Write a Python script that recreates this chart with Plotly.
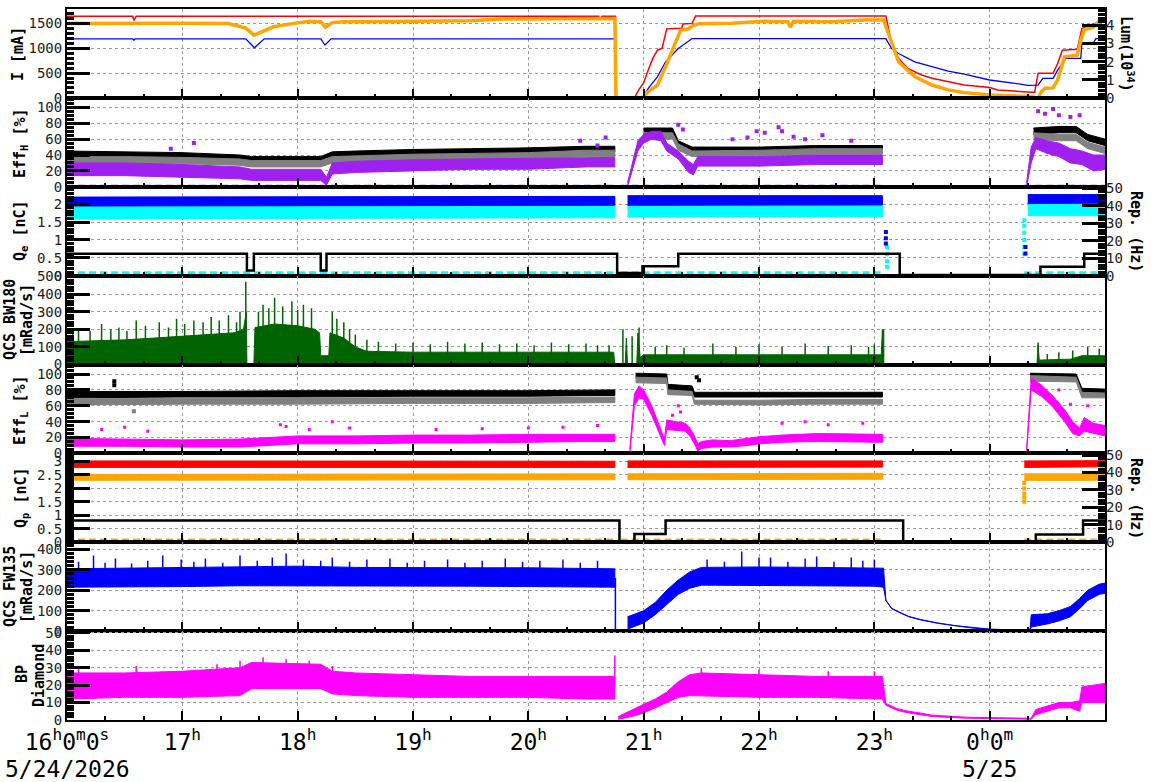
import plotly.graph_objects as go

N = None

# ---------------- axis labels ----------------
hours = [16, 17, 18, 19, 20, 21, 22, 23, 24]
hour_labels = ["16<sup>h</sup>0<sup>m</sup>0<sup>s</sup>", "17<sup>h</sup>", "18<sup>h</sup>", "19<sup>h</sup>",
               "20<sup>h</sup>", "21<sup>h</sup>", "22<sup>h</sup>", "23<sup>h</sup>", "0<sup>h</sup>0<sup>m</sup>"]
date_hours = [16, 24]
date_labels = ["5/24/2026", "5/25"]

# ---------------- panel 1 : beam currents [mA] and luminosity ----------------
i_red_t = [16.0, 16.57, 16.58, 16.6, 20.61, 20.62, 20.64, 20.755, 20.76, 20.92, 20.96, 21.0, 21.03, 21.08,
           21.12, 21.16, 21.2, 21.33, 21.34, 21.42, 21.45, 23.1, 23.15, 23.21, 23.29, 23.41, 23.5, 23.64,
           23.78, 24.0, 24.07, 24.36, 24.39, 24.42, 24.55, 24.59, 24.63, 24.76, 24.79, 24.8, 24.9, 24.97, 25.0]
i_red = [1645, 1645, 1560, 1645, 1645, 1575, 1645, 1645, 0, 0, 170, 300, 500, 800,
         960, 1000, 1390, 1400, 1490, 1500, 1650, 1650, 1094, 794, 594, 460, 394, 327,
         260, 207, 160, 113, 113, 494, 494, 694, 960, 980, 1294, 1394, 1494, 1527, 1530]
i_blue_t = [16.0, 16.57, 16.58, 16.59, 17.55, 17.625, 17.71, 18.2, 18.237, 18.29, 20.755, 20.76, 20.99,
            21.04, 21.12, 21.19, 21.3, 21.36, 21.42, 23.1, 23.15, 23.21, 23.35, 23.5, 23.64, 23.78, 24.0,
            24.22, 24.33, 24.42, 24.46, 24.55, 24.59, 24.66, 24.79, 24.8, 24.9, 24.92, 25.0]
i_blue = [1190, 1190, 1160, 1190, 1190, 1010, 1190, 1190, 1065, 1190, 1190, 0, 0,
          193, 427, 727, 994, 1094, 1194, 1194, 994, 894, 727, 627, 540, 480, 360,
          294, 250, 255, 394, 394, 560, 794, 794, 1107, 1107, 1194, 1194]
lum_t = [16.0, 16.5, 17.0, 17.4, 17.55, 17.62, 17.79, 17.94, 18.1, 18.2, 18.24, 18.3, 18.4, 19.0, 19.5,
         19.8, 20.3, 20.6, 20.75, 20.76, 20.99, 21.04, 21.12, 21.19, 21.26, 21.32, 21.39, 21.43, 21.48,
         21.76, 22.05, 22.25, 22.27, 22.3, 22.63, 22.92, 23.08, 23.12, 23.16, 23.21, 23.35, 23.5, 23.64,
         23.78, 24.0, 24.22, 24.36, 24.42, 24.45, 24.48, 24.55, 24.59, 24.65, 24.76, 24.79, 24.82, 24.9,
         24.94, 25.0]
lum = [4.1, 4.12, 4.12, 4.1, 3.85, 3.46, 3.92, 4.08, 4.22, 4.2, 3.9, 4.15, 4.2, 4.22, 4.25,
       4.35, 4.37, 4.38, 4.38, 0, 0, 0.35, 0.71, 1.72, 2.81, 3.72, 3.81, 4.0, 4.09,
       4.12, 4.23, 4.2, 3.9, 4.22, 4.2, 4.3, 4.3, 3.6, 2.81, 1.99, 1.17, 0.71, 0.44,
       0.29, 0.16, 0.11, 0.07, 0.0, 0.35, 0.53, 0.55, 0.99, 2.26, 2.35, 3.18, 3.76, 3.9,
       4.18, 4.25]

# ---------------- panel 2 : Eff_H [%] ----------------
effh_t = [16.0, 16.5, 17.0, 17.5, 17.6, 18.2, 18.3, 18.5, 19.0, 19.5, 20.0, 20.5, 20.75, N,
          21.0, 21.25, 21.3, 21.42, 22.0, 22.5, 23.07, N, 24.38, 24.6, 24.75, 24.85, 25.0]
effh_black_lo = [36, 36, 35, 33, 30, 30, 36, 37, 39, 40, 41, 44, 44, N, 66, 66, 50, 42, 43, 45, 45, N, 66, 68, 68, 58, 52]
effh_black_hi = [45, 44, 43, 40, 38, 38, 44, 45, 47, 48, 49, 51, 51, N, 74, 74, 58, 50, 50, 52, 52, N, 74, 76, 76, 66, 60]
effh_gray_lo = [30, 30, 29, 27, 25, 25, 30, 31, 33, 34, 35, 38, 38, N, 60, 60, 46, 38, 39, 41, 41, N, 60, 58, 58, 48, 42]
effh_gray_hi = [38, 38, 37, 35, 33, 33, 38, 39, 41, 42, 43, 46, 46, N, 68, 68, 54, 45, 46, 48, 48, N, 68, 66, 66, 56, 50]
effh_p_t = [16.0, 16.5, 17.0, 17.5, 17.6, 18.2, 18.25, 18.3, 18.5, 19.0, 19.5, 20.0, 20.5, 20.75, N,
            20.86, 20.91, 20.95, 21.0, 21.07, 21.15, 21.2, 21.3, 21.39, 21.43, 21.47, 21.6, 22.0, 22.5, 23.07, N,
            24.32, 24.36, 24.4, 24.5, 24.6, 24.7, 24.8, 24.9, 25.0]
effh_p_lo = [14, 14, 12, 10, 8, 8, 2, 16, 18, 20, 22, 22, 25, 25, N,
             0, 25, 45, 55, 60, 58, 45, 35, 18, 15, 26, 26, 26, 28, 28, N,
             0, 30, 48, 42, 38, 30, 28, 20, 22]
effh_p_hi = [30, 30, 28, 25, 22, 22, 12, 30, 32, 34, 35, 36, 37, 37, N,
             5, 35, 58, 66, 70, 70, 55, 45, 32, 28, 38, 38, 38, 40, 40, N,
             5, 50, 62, 58, 55, 48, 45, 40, 40]
effh_p_out_t = [16.9, 17.1, 20.45, 20.6, 20.67, 21.3, 21.34, 21.77, 21.9, 21.98, 22.05, 22.17, 22.2, 22.3,
                22.4, 22.55, 22.8, 24.42, 24.48, 24.55, 24.6, 24.7, 24.78]
effh_p_out = [48, 55, 58, 52, 62, 78, 72, 60, 62, 70, 68, 75, 70, 63, 60, 65, 58, 95, 92, 98, 90, 88, 90]
zero_t = [16.0, 20.75, N, 20.8, 23.07, N, 24.3, 25.0]
zero_v = [0.6, 0.6, N, 0.6, 0.6, N, 0.6, 0.6]

# ---------------- panel 3 : Q_e [nC] and rep. rate ----------------
qe_t = [16.0, 17.0, 18.0, 19.0, 20.0, 20.75, N, 20.86, 21.5, 22.0, 22.5, 23.07, N, 24.33, 24.6, 25.0]
qe_blue_lo = [1.95, 1.95, 1.96, 1.97, 1.97, 1.97, N, 1.97, 1.97, 1.97, 1.98, 1.98, N, 2.02, 2.03, 2.03]
qe_blue_hi = [2.2, 2.2, 2.21, 2.22, 2.22, 2.22, N, 2.24, 2.24, 2.24, 2.24, 2.24, N, 2.27, 2.27, 2.27]
qe_cyan_lo = [1.58, 1.6, 1.62, 1.62, 1.62, 1.62, N, 1.64, 1.64, 1.64, 1.65, 1.65, N, 1.68, 1.68, 1.68]
qe_cyan_hi = [1.95, 1.96, 1.97, 1.97, 1.98, 1.98, N, 2.0, 2.0, 2.0, 2.0, 2.0, N, 2.03, 2.03, 2.03]
qe_blue_pts_t = [23.1, 23.1, 23.1, 24.31, 24.31]
qe_blue_pts = [1.22, 1.05, 0.9, 0.8, 0.62]
qe_cyan_pts_t = [23.11, 23.11, 23.11, 23.11, 24.3, 24.3, 24.3, 24.3, 24.3, 24.3]
qe_cyan_pts = [0.8, 0.6, 0.4, 0.25, 1.55, 1.4, 1.2, 1.0, 0.8, 0.6]
qe_zero_v = [0.08, 0.08, N, 0.08, 0.08, N, 0.08, 0.08]
rep_e_t = [16.0, 17.56, 17.62, 18.2, 18.25, 20.77, 20.99, 21.3, 23.22, 24.44, 24.82, 25.0]
rep_e = [12.5, 3, 12.5, 3, 12.5, 1.5, 5.4, 12.5, 0.3, 5.1, 12.5, 12.5]

# ---------------- panel 4 : QCS BW180 [mRad/s] ----------------
bw_t = [16.0, 16.25, 16.5, 16.75, 17.0, 17.25, 17.45, 17.53, 17.555, 17.56, 17.62, 17.63, 17.8, 18.0, 18.15,
        18.19, 18.2, 18.27, 18.28, 18.4, 18.5, 18.6, 19.0, 19.5, 20.0, 20.5, 20.74, 20.75, 20.84, 20.85,
        20.86, 20.94, 20.95, 20.97, 21.0, 21.5, 22.0, 22.5, 23.0, 23.06, 23.07, 23.08, 24.41, 24.42, 24.43,
        24.7, 24.8, 25.0]
bw_v = [130, 135, 140, 150, 160, 170, 180, 200, 300, 0, 0, 210, 230, 220, 200,
        180, 50, 50, 180, 150, 100, 75, 70, 70, 70, 70, 70, 0, 0, 150,
        0, 0, 180, 40, 55, 55, 55, 55, 55, 55, 200, 0, 0, 110, 25,
        30, 50, 50]
bw_spk_t = [16.05, 16.1, 16.2, 16.3, 16.38, 16.45, 16.52, 16.6, 16.68, 16.8, 16.88, 16.95, 17.02, 17.1, 17.18,
            17.25, 17.32, 17.4, 17.47, 17.5, 17.55, 17.66, 17.7, 17.75, 17.8, 17.87, 17.95, 18.0, 18.05,
            18.12, 18.3, 18.34, 18.4, 18.45, 18.5, 18.6, 18.7, 18.85, 19.0, 19.15, 19.3, 19.45, 19.6, 19.75,
            19.9, 20.05, 20.2, 20.35, 20.5, 20.6, 20.7, 20.82, 20.9, 20.96, 21.1, 21.2, 21.35, 21.6, 21.8,
            22.0, 22.2, 22.4, 22.6, 22.8, 22.95, 23.0, 23.08, 24.42, 24.5, 24.6, 24.72, 24.85, 24.95]
bw_spk = [180, 200, 190, 230, 200, 210, 190, 250, 220, 240, 210, 260, 230, 250, 240,
          270, 250, 280, 240, 300, 470, 300, 340, 320, 380, 330, 360, 310, 340,
          320, 300, 260, 240, 200, 170, 140, 130, 120, 125, 115, 130, 120, 125, 115,
          120, 110, 125, 115, 120, 110, 110, 200, 160, 210, 100, 110, 95, 120, 100,
          115, 100, 120, 105, 110, 100, 115, 200, 125, 60, 70, 80, 100, 90]

# ---------------- panel 5 : Eff_L [%] ----------------
effl_t = [16.0, 17.0, 18.0, 19.0, 20.0, 20.75, N, 20.93, 21.2, 21.21, 21.42, 21.44, 22.0, 22.5, 23.07, N,
          24.35, 24.75, 24.8, 25.0]
effl_black_lo = [70, 71, 71, 72, 72, 73, N, 95, 94, 80, 79, 71, 71, 71, 71, N, 95, 94, 76, 75]
effl_black_hi = [78, 78, 79, 79, 79, 80, N, 101, 100, 87, 85, 77, 77, 77, 77, N, 101, 100, 82, 81]
effl_gray_lo = [61, 62, 62, 63, 63, 64, N, 89, 88, 74, 73, 62, 61, 62, 62, N, 91, 90, 70, 70]
effl_gray_hi = [69, 69, 70, 70, 70, 71, N, 96, 95, 80, 78, 67, 67, 68, 68, N, 98, 96, 77, 76]
effl_m_t = [16.0, 16.5, 17.0, 17.5, 18.0, 18.5, 19.0, 19.5, 20.0, 20.5, 20.75, N,
            20.88, 20.92, 20.96, 21.0, 21.07, 21.12, 21.18, 21.2, 21.36, 21.4, 21.44, 21.47, 21.5, 21.6,
            21.75, 21.9, 22.0, 22.2, 22.5, 23.07, N,
            24.32, 24.36, 24.45, 24.55, 24.65, 24.72, 24.78, 24.82, 24.9, 25.0]
effl_m_lo = [9, 9, 8, 8, 12, 12, 13, 13, 14, 15, 15, N,
             0, 60, 70, 68, 48, 30, 10, 30, 28, 22, 12, 3, 6, 8, 8, 10, 12, 14, 15, 14, N,
             0, 80, 72, 58, 40, 25, 22, 28, 25, 22]
effl_m_hi = [19, 18, 17, 18, 22, 22, 23, 23, 24, 24, 24, N,
             5, 75, 85, 80, 60, 40, 18, 42, 38, 32, 22, 12, 15, 17, 16, 19, 21, 23, 25, 24, N,
             5, 95, 86, 72, 55, 40, 32, 45, 38, 35]
effl_m_out_t = [16.3, 16.5, 16.7, 17.85, 17.9, 18.1, 18.3, 18.45, 19.2, 19.6, 20.0, 20.3, 20.6, 21.25, 21.3,
                21.32, 22.2, 22.4, 22.6, 22.9, 24.6, 24.7, 24.85]
effl_m_out = [30, 33, 28, 36, 34, 30, 40, 32, 30, 31, 32, 33, 35, 48, 60, 52, 38, 40, 36, 38, 80, 62, 60]
effl_k_out_t = [16.41, 16.41, 21.46, 21.48]
effl_k_out = [91, 86, 96, 92]
effl_g_out_t = [16.58]
effl_g_out = [53]

# ---------------- panel 6 : Q_p [nC] and rep. rate ----------------
qp_t = [16.0, 17.0, 18.0, 19.0, 20.0, 20.75, N, 20.86, 21.5, 22.0, 22.5, 23.07, N, 24.3, 24.6, 25.0]
qp_red_lo = [2.78, 2.78, 2.77, 2.78, 2.78, 2.78, N, 2.78, 2.78, 2.78, 2.79, 2.79, N, 2.78, 2.8, 2.8]
qp_red_hi = [3.02, 3.02, 3.0, 3.01, 3.01, 3.01, N, 3.02, 3.02, 3.02, 3.02, 3.02, N, 3.02, 3.03, 3.03]
qp_or_lo = [2.3, 2.3, 2.3, 2.31, 2.32, 2.32, N, 2.32, 2.32, 2.33, 2.34, 2.34, N, 2.3, 2.3, 2.3]
qp_or_hi = [2.52, 2.52, 2.52, 2.53, 2.54, 2.54, N, 2.54, 2.54, 2.55, 2.56, 2.56, N, 2.54, 2.54, 2.54]
qp_or_pts_t = [24.3, 24.3, 24.3, 24.3, 24.3]
qp_or_pts = [2.2, 2.0, 1.8, 1.65, 1.5]
qp_zero_v = [0.08, 0.08, N, 0.08, 0.08, N, 0.08, 0.08]
rep_p_t = [16.0, 20.79, 20.92, 21.19, 23.25, 24.4, 24.81, 25.0]
rep_p = [12.5, 0.5, 4.8, 12.5, 0.3, 4.4, 12.5, 12.5]

# ---------------- panel 7 : QCS FW135 [mRad/s] ----------------
fw_t = [16.0, 16.5, 17.0, 17.5, 18.0, 18.5, 19.0, 19.5, 20.0, 20.5, 20.75, N,
        20.86, 21.0, 21.1, 21.2, 21.3, 21.4, 21.5, 22.0, 22.5, 23.0, 23.08, 23.1, 23.15, 23.22, 23.3, 23.4,
        23.55, 23.7, 23.85, 24.0, 24.2, 24.35, 24.36, 24.5, 24.6, 24.7, 24.78, 24.85, 24.95, 25.0]
fw_lo = [215, 218, 218, 222, 222, 220, 220, 220, 218, 215, 215, N,
         10, 40, 80, 130, 180, 210, 225, 225, 222, 220, 215, 150, 110, 90, 70, 55,
         38, 25, 15, 8, 4, 3, 20, 35, 50, 70, 110, 150, 180, 185]
fw_hi = [305, 308, 310, 312, 318, 312, 310, 310, 310, 308, 305, N,
         70, 100, 140, 200, 250, 290, 312, 314, 312, 310, 308, 152, 112, 92, 72, 57,
         40, 27, 17, 10, 6, 5, 80, 85, 100, 120, 160, 200, 230, 235]
fw_spk_t = [16.1, 16.23, 16.33, 16.42, 16.56, 16.7, 16.83, 16.99, 17.1, 17.2, 17.35, 17.5, 17.65, 17.78, 17.9,
            18.05, 18.2, 18.3, 18.45, 18.6, 18.8, 18.95, 19.1, 19.3, 19.45, 19.6, 19.8, 19.95, 20.1, 20.3,
            20.45, 20.6, 21.55, 21.7, 21.85, 22.0, 22.1, 22.25, 22.4, 22.5, 22.65, 22.8, 22.9, 23.0]
fw_spk = [340, 370, 335, 356, 331, 345, 370, 350, 340, 355, 335, 370, 345, 360, 380,
          350, 345, 360, 340, 350, 355, 335, 345, 350, 335, 345, 355, 340, 345, 350,
          335, 345, 350, 340, 390, 360, 360, 340, 355, 365, 340, 360, 345, 350]
fw_dump_t = [20.755, 20.755]
fw_dump = [260, 0]

# ---------------- panel 8 : BP Diamond ----------------
dm_t = [16.0, 16.5, 17.0, 17.5, 17.6, 18.2, 18.3, 18.5, 19.0, 19.5, 20.0, 20.5, 20.75, N,
        20.78, 20.9, 21.0, 21.1, 21.2, 21.3, 21.4, 21.5, 22.0, 22.5, 23.07, 23.1, 23.2, 23.3, 23.4, 23.5,
        23.8, 24.1, 24.36, 24.4, 24.5, 24.6, 24.7, 24.78, 24.8, 24.9, 25.0]
dm_lo = [12, 13, 13, 14, 18, 18, 15, 14, 13, 13, 13, 12, 12, N,
         0.5, 2, 4, 7, 10, 13, 14, 14, 13, 13, 12, 8.5, 5.5, 4, 3, 2,
         1, 0.6, 0.5, 3, 5, 7, 7, 5, 10, 10, 10]
dm_hi = [27, 27, 28, 30, 33, 32, 28, 27, 26, 25, 25, 25, 25, N,
         2, 6, 9, 12, 16, 22, 26, 27, 26, 25, 25, 9.5, 6.5, 5, 4, 2.8,
         1.6, 1.2, 1.0, 6, 8, 10, 10, 11, 19, 20, 21]
dm_spk_t = [16.1, 16.6, 17.3, 17.5, 17.7, 17.9, 18.1, 18.3, 20.75, 21.5, 22.0, 22.6, 23.0]
dm_spk = [30, 31, 32, 34, 36, 35, 34, 31, 37, 30, 29, 28, 28]

# ---------------- colours ----------------
RED, BLUE, ORANGE = "#ff0000", "#0000ff", "#ffa500"
PURPLE, GRAY, CYAN, MAGENTA, GREEN = "#a020f0", "#808080", "#00ffff", "#ff00ff", "#006400"

fig = go.Figure()


def ax(k):
    return ("x" if k == 1 else f"x{k}"), ("y" if k == 1 else f"y{k}")


def line(t, v, color, width, axes, shape="linear", dash=None):
    fig.add_trace(go.Scatter(x=t, y=v, mode="lines", xaxis=axes[0], yaxis=axes[1],
                             line=dict(color=color, width=width, shape=shape, dash=dash),
                             hoverinfo="skip", showlegend=False, connectgaps=False))


def band(t, lo, hi, color, axes):
    xs, ys = [], []
    st, sl, sh = [], [], []
    for a, b, c in list(zip(t, lo, hi)) + [(None, None, None)]:
        if a is None:
            if st:
                xs += st + st[::-1] + [None]
                ys += sh + sl[::-1] + [None]
            st, sl, sh = [], [], []
        else:
            st.append(a); sl.append(b); sh.append(c)
    fig.add_trace(go.Scatter(x=xs, y=ys, mode="lines", fill="toself", fillcolor=color,
                             line=dict(color=color, width=1), xaxis=axes[0], yaxis=axes[1],
                             hoverinfo="skip", showlegend=False))


def points(t, v, color, axes, size=4):
    fig.add_trace(go.Scatter(x=t, y=v, mode="markers", xaxis=axes[0], yaxis=axes[1],
                             marker=dict(color=color, size=size, symbol="square"),
                             hoverinfo="skip", showlegend=False))


def spikes(t, v, base, color, width, axes):
    xs, ys = [], []
    for a, b in zip(t, v):
        xs += [a, a, None]
        ys += [base, b, None]
    line(xs, ys, color, width, axes)


# panel 1
line(i_red_t, i_red, RED, 1.5, ax(1))
line(i_blue_t, i_blue, BLUE, 1.3, ax(1))
line(lum_t, lum, ORANGE, 3.5, ("x", "y9"))
# panel 2
band(effh_t, effh_black_lo, effh_black_hi, "black", ax(2))
band(effh_t, effh_gray_lo, effh_gray_hi, GRAY, ax(2))
band(effh_p_t, effh_p_lo, effh_p_hi, PURPLE, ax(2))
points(effh_p_out_t, effh_p_out, PURPLE, ax(2))
line(zero_t, zero_v, PURPLE, 3, ax(2), dash="7px,4px")
# panel 3
band(qe_t, qe_cyan_lo, qe_cyan_hi, CYAN, ax(3))
band(qe_t, qe_blue_lo, qe_blue_hi, BLUE, ax(3))
points(qe_cyan_pts_t, qe_cyan_pts, CYAN, ax(3))
points(qe_blue_pts_t, qe_blue_pts, BLUE, ax(3))
line(zero_t, qe_zero_v, CYAN, 3, ax(3), dash="7px,4px")
line(rep_e_t, rep_e, "black", 2.5, ("x3", "y10"), shape="hv")
# panel 4
fig.add_trace(go.Scatter(x=bw_t, y=bw_v, mode="lines", fill="tozeroy", fillcolor=GREEN,
                         line=dict(color=GREEN, width=1), xaxis="x4", yaxis="y4",
                         hoverinfo="skip", showlegend=False))
spikes(bw_spk_t, bw_spk, 0, GREEN, 1.5, ax(4))
# panel 5
band(effl_t, effl_black_lo, effl_black_hi, "black", ax(5))
band(effl_t, effl_gray_lo, effl_gray_hi, GRAY, ax(5))
points(effl_k_out_t, effl_k_out, "black", ax(5))
points(effl_g_out_t, effl_g_out, GRAY, ax(5))
band(effl_m_t, effl_m_lo, effl_m_hi, MAGENTA, ax(5))
points(effl_m_out_t, effl_m_out, MAGENTA, ax(5), size=3)
line(zero_t, zero_v, MAGENTA, 3, ax(5), dash="7px,4px")
# panel 6
band(qp_t, qp_red_lo, qp_red_hi, RED, ax(6))
band(qp_t, qp_or_lo, qp_or_hi, ORANGE, ax(6))
points(qp_or_pts_t, qp_or_pts, ORANGE, ax(6))
line(zero_t, qp_zero_v, ORANGE, 3, ax(6), dash="7px,4px")
line(rep_p_t, rep_p, "black", 2.5, ("x6", "y11"), shape="hv")
# panel 7
band(fw_t, fw_lo, fw_hi, BLUE, ax(7))
spikes(fw_spk_t, fw_spk, 250, BLUE, 1.5, ax(7))
line(fw_dump_t, fw_dump, BLUE, 1.5, ax(7))
# panel 8
band(dm_t, dm_lo, dm_hi, MAGENTA, ax(8))
spikes(dm_spk_t, dm_spk, 20, MAGENTA, 1.5, ax(8))

# ---------------- layout ----------------
FONT = "DejaVu Sans Mono"
GRID = dict(showgrid=True, gridcolor="#9a9a9a", griddash="3px,3px", gridwidth=1)
layout = dict(width=1172, height=782, margin=dict(l=67, r=67, t=9, b=62, autoexpand=False),
              paper_bgcolor="white", plot_bgcolor="white", showlegend=False,
              font=dict(family=FONT, size=14, color="#222"))

yspecs = {
    1: ([0, 1790], [0, 500, 1000, 1500], ["0", "500", "1000", "1500"], 100),
    2: ([0, 112], [0, 20, 40, 60, 80, 100], ["0", "20", "40", "60", "80", "100"], 5),
    3: ([0, 2.49], [0, 0.5, 1, 1.5, 2], ["0", "0.5", "1", "1.5", "2"], 0.1),
    4: ([0, 505], [0, 100, 200, 300, 400, 500], ["0", "100", "200", "300", "400", "500"], 20),
    5: ([0, 112], [0, 20, 40, 60, 80, 100], ["0", "20", "40", "60", "80", "100"], 5),
    6: ([0, 3.3], [0, 0.5, 1, 1.5, 2, 2.5, 3], ["0", "0.5", "1", "1.5", "2", "2.5", "3"], 0.1),
    7: ([0, 435], [0, 100, 200, 300, 400], ["0", "100", "200", "300", "400"], 20),
    8: ([0, 51], [0, 10, 20, 30, 40, 50], ["0", "10", "20", "30", "40", "50"], 2),
}
for k in range(1, 9):
    sfx = "" if k == 1 else str(k)
    xa = dict(domain=[0, 1], anchor="y" + sfx, range=[16, 25], tickmode="array", tickvals=hours,
              ticktext=hour_labels, ticks="inside", ticklen=9, tickwidth=2, tickcolor="black",
              minor=dict(tickmode="linear", tick0=16, dtick=1 / 3, ticks="inside", ticklen=4,
                         tickwidth=1.5, tickcolor="black", showgrid=False),
              showline=True, mirror=True, linecolor="black", linewidth=2, zeroline=False,
              automargin=False,
              showticklabels=(k == 8), tickfont=dict(family=FONT, size=23, color="black"), **GRID)
    if k > 1:
        xa["matches"] = "x"
    rng, tv, tt, mdt = yspecs[k]
    ya = dict(domain=[(8 - k) / 8, (9 - k) / 8], anchor="x" + sfx, range=rng, tickmode="array",
              tickvals=tv, ticktext=tt, ticks="inside", ticklen=23, tickwidth=2.5, tickcolor="black",
              minor=dict(tickmode="linear", tick0=0, dtick=mdt, ticks="inside", ticklen=7,
                         tickwidth=2.5, tickcolor="black", showgrid=False),
              showline=True, mirror=True, linecolor="black", linewidth=2, zeroline=False,
              automargin=False,
              tickfont=dict(family=FONT, size=14, color="#222"), **GRID)
    layout["xaxis" + sfx] = xa
    layout["yaxis" + sfx] = ya

right = {9: (1, [0, 4.9], [0, 1, 2, 3, 4], 0.2), 10: (3, [0, 51], [0, 10, 20, 30, 40, 50], 2),
         11: (6, [0, 51], [0, 10, 20, 30, 40, 50], 2)}
for k, (base, rng, tv, mdt) in right.items():
    bs = "" if base == 1 else str(base)
    layout[f"yaxis{k}"] = dict(overlaying="y" + bs, anchor="x" + bs, side="right", range=rng,
                               tickmode="array", tickvals=tv, ticktext=[str(v) for v in tv],
                               ticks="inside", ticklen=23, tickwidth=2.5, tickcolor="black",
                               minor=dict(tickmode="linear", tick0=0, dtick=mdt, ticks="inside",
                                          ticklen=7, tickwidth=2.5, tickcolor="black"),
                               showgrid=False, showline=False, zeroline=False, automargin=False,
                               tickfont=dict(family=FONT, size=14, color="#222"))


def px_x(p):
    return (p - 67) / 1038


def px_y(p):
    return (720 - p) / 711


titles = [
    ("I [mA]", 18, 54, -90), ("Eff<sub>H</sub> [%]", 21, 143, -90), ("Q<sub>e</sub> [nC]", 21, 231, -90),
    ("QCS BW180", 10, 320, -90), ("[mRad/s]", 27, 320, -90), ("Eff<sub>L</sub> [%]", 21, 410, -90),
    ("Q<sub>p</sub> [nC]", 21, 498, -90), ("QCS FW135", 10, 587, -90), ("[mRad/s]", 27, 587, -90),
    ("BP", 22, 674, -90), ("Diamond", 39, 676, -90),
    ("Lum(10<sup>34</sup>)", 1127, 54, 90), ("Rep. (Hz)", 1136, 231, 90), ("Rep. (Hz)", 1136, 498, 90),
]
ann = []
for txt, x, y, ang in titles:
    ann.append(dict(text="<b>" + txt + "</b>", x=px_x(x), y=px_y(y), xref="paper", yref="paper",
                    xanchor="center", yanchor="middle", textangle=ang, showarrow=False,
                    font=dict(family=FONT, size=15, color="black")))
for h, d in zip(date_hours, date_labels):
    ann.append(dict(text=d, x=h, y=px_y(769), xref="x8", yref="paper", xanchor="center",
                    yanchor="middle", showarrow=False, font=dict(family=FONT, size=23, color="black")))
layout["annotations"] = ann

fig.update_layout(**layout)
fig.write_html("out.html")
